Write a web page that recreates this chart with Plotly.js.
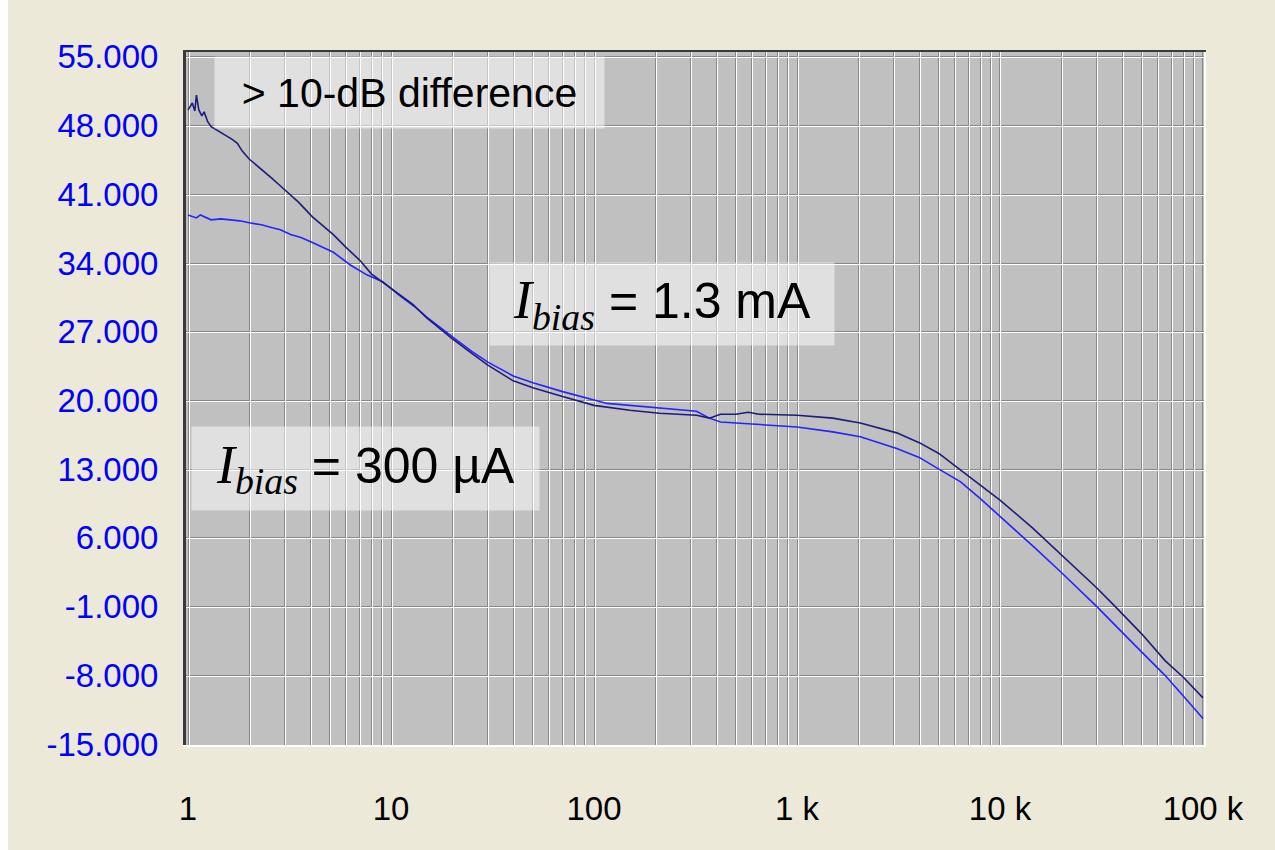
<!DOCTYPE html>
<html>
<head>
<meta charset="utf-8">
<script src="https://cdn.plot.ly/plotly-3.0.1.min.js"></script>
<style>html,body{margin:0;padding:0;background:#ECE9D8;}#chart{width:1275px;height:850px;}</style>
</head>
<body>
<div id="chart"></div>
<script>
// ---- data ----
var freqDark = [1.0,1.05,1.08,1.1,1.13,1.17,1.2,1.25,1.3,1.4,1.5,1.65,1.75,1.85,2.0,2.2,2.4,2.6,2.8,3.1,3.5,4.1,4.6,5.2,6.0,7.0,8.0,9.5,11,12.8,15,20,25,30,40,50,70,100,150,210,320,370,420,500,575,650,1000,1500,2050,3100,4000,5000,6400,8000,10000,14500,20000,30000,37000,50000,65000,80000,100000];
var valDark  = [49.6,50.3,49.5,51.1,49.6,49.0,49.4,48.4,47.9,47.5,47.2,46.6,46.2,45.4,44.6,43.9,43.2,42.6,42.0,41.2,40.2,38.7,37.8,36.9,35.6,34.3,32.9,31.8,30.8,29.8,28.4,26.3,24.8,23.6,22.0,21.3,20.4,19.5,19.0,18.7,18.5,18.2,18.6,18.6,18.8,18.6,18.5,18.2,17.7,16.7,15.7,14.6,12.9,11.4,9.85,7.0,4.3,0.9,-1.0,-3.8,-6.5,-8.2,-10.3];

var freqBlue = [1.0,1.1,1.15,1.2,1.3,1.45,1.6,1.8,2.0,2.3,2.6,2.85,3.2,3.6,4.1,5.2,6.3,7.6,9.1,11,13,15,20,25,30,40,50,70,116,211,320,370,420,600,1000,1500,2050,3100,4000,5000,6400,8000,10000,12000,15000,20000,30000,45000,65000,80000,100000];
var valBlue  = [38.9,38.6,38.9,38.7,38.4,38.5,38.4,38.3,38.1,37.9,37.6,37.4,36.9,36.6,36.1,35.1,33.8,32.8,32.1,30.7,29.6,28.5,26.5,25.0,23.9,22.5,21.8,20.9,19.7,19.2,18.9,18.2,17.8,17.6,17.3,16.8,16.3,15.1,14.2,13.0,11.7,10.0,8.2,6.7,4.9,2.5,-1.0,-4.7,-8.0,-10.1,-12.4];

var yTickVals   = [-15,-8,-1,6,13,20,27,34,41,48,55];
var yTickLabels = ["-15.000","-8.000","-1.000","6.000","13.000","20.000","27.000","34.000","41.000","48.000","55.000"];
var xDecades    = [1,10,100,1000,10000,100000];
var xTickLabels = ["1","10","100","1 k","10 k","100 k"];
var gridDigits  = [1,2,3,4,5,6,7,8,9];

var label1 = "&gt; 10-dB difference";
var label2 = "= 1.3 mA";
var label3 = "= 300 \u00B5A";

// ---- gridlines at every digit of every decade (x2 axis), labels only at decades (x axis) ----
var xGridVals = [];
for (var d = 0; d < xDecades.length - 1; d++) {
  for (var m = 0; m < gridDigits.length; m++) xGridVals.push(gridDigits[m] * xDecades[d]);
}
xGridVals.push(xDecades[xDecades.length - 1]);

var xRange = [-0.01, 5.005];
var yRange = [-15.1, 55.5];
var pxX = (xRange[1] - xRange[0]) / 1018;
var pxY = (yRange[1] - yRange[0]) / 693;

var traces = [
  {type:'scatter', mode:'lines', x:freqBlue, y:valBlue, line:{color:'#2424ff', width:1.6}, hoverinfo:'skip', showlegend:false},
  {type:'scatter', mode:'lines', x:freqDark, y:valDark, line:{color:'#1c1c7c', width:1.6}, hoverinfo:'skip', showlegend:false},
  {type:'scatter', mode:'lines', x:[], y:[], xaxis:'x2', yaxis:'y2', hoverinfo:'skip', showlegend:false}
];

var sans = "'Liberation Sans', Arial, sans-serif";
function ibias(rest) {
  return '<span style="font-family:\'Liberation Serif\',\'Times New Roman\',serif;font-size:54px"><i>I<sub>bias</sub></i></span> ' + rest;
}

var layout = {
  width:1275, height:850,
  paper_bgcolor:'#ECE9D8', plot_bgcolor:'#C0C0C0',
  margin:{l:186, r:71, t:52, b:105, pad:0},
  font:{family:sans, color:'#000'},
  xaxis:{type:'log', range:xRange, tickmode:'array', tickvals:xDecades, ticktext:xTickLabels,
         tickangle:0, showgrid:false, zeroline:false,
         minor:{tickmode:'array', tickvals:xGridVals, showgrid:true, gridcolor:'#888888', gridwidth:1, ticks:''},
         showline:true, linecolor:'#ffffff', linewidth:2, ticks:'', ticklabelstandoff:33,
         tickfont:{family:sans, size:33, color:'#000'}, fixedrange:true},
  yaxis:{range:yRange, tickmode:'array', tickvals:yTickVals, ticktext:yTickLabels,
         showgrid:true, gridcolor:'#888888', gridwidth:1, zeroline:false,
         showline:true, linecolor:'#3a3a3a', linewidth:3, ticks:'', ticklabelstandoff:18,
         tickfont:{family:sans, size:33, color:'#0000ff'}, fixedrange:true},
  xaxis2:{type:'log', overlaying:'x', side:'top', anchor:'y2', range:[xRange[0]-pxX, xRange[1]-pxX],
          tickmode:'array', tickvals:xGridVals, showticklabels:false, ticks:'',
          showgrid:true, gridcolor:'#ffffff', gridwidth:1, zeroline:false,
          showline:true, linecolor:'#3a3a3a', linewidth:2, fixedrange:true},
  yaxis2:{overlaying:'y', side:'right', anchor:'x2', range:[yRange[0]+pxY, yRange[1]+pxY],
          tickmode:'array', tickvals:yTickVals, showticklabels:false, ticks:'',
          showgrid:true, gridcolor:'#ffffff', gridwidth:1, zeroline:false,
          showline:true, linecolor:'#ffffff', linewidth:2, fixedrange:true},
  shapes:[
    {type:'rect', xref:'paper', yref:'paper', x0:-0.1827, x1:-0.1749, y0:-0.1515, y1:1.0751,
     fillcolor:'#ffffff', line:{width:0}}
  ],
  annotations:[
    {xref:'paper', yref:'paper', x:0.220, y:0.941, xanchor:'center', yanchor:'middle', text:label1, showarrow:false,
     width:389, height:71, borderpad:0, bgcolor:'rgba(255,255,255,0.5)',
     font:{family:sans, size:41, color:'#000'}},
    {xref:'paper', yref:'paper', x:0.4676, y:0.636, xanchor:'center', yanchor:'middle', text:ibias(label2), showarrow:false,
     width:344, height:82, borderpad:0, bgcolor:'rgba(255,255,255,0.5)',
     font:{family:sans, size:50, color:'#000'}},
    {xref:'paper', yref:'paper', x:0.1768, y:0.3997, xanchor:'center', yanchor:'middle', text:ibias(label3), showarrow:false,
     width:347, height:83, borderpad:0, bgcolor:'rgba(255,255,255,0.5)',
     font:{family:sans, size:50, color:'#000'}}
  ]
};

Plotly.newPlot('chart', traces, layout, {staticPlot:true, displayModeBar:false});
</script>
</body>
</html>
